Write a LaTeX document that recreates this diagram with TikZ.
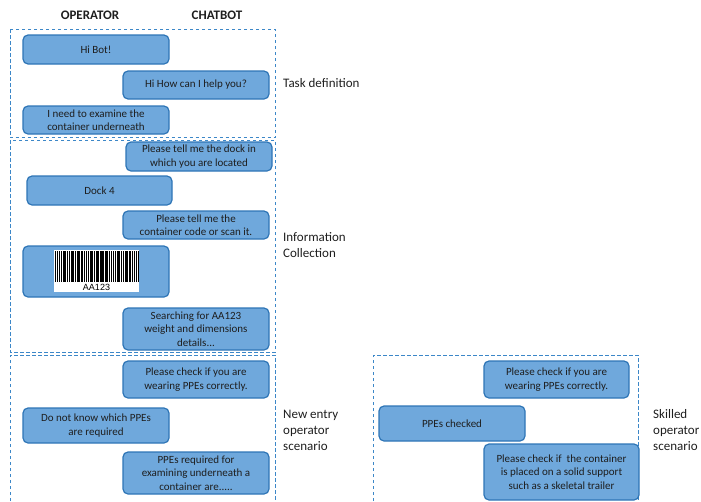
\documentclass[tikz,border=0pt]{standalone}
\usepackage{fontspec}
\setmainfont{Carlito}
\newfontfamily\arialfont{Liberation Sans}
\definecolor{bubfill}{RGB}{111,168,220}
\definecolor{bubdraw}{RGB}{46,117,182}
\definecolor{dashblue}{RGB}{60,135,200}
\definecolor{txt}{RGB}{30,30,30}
\tikzset{
  bubble/.style={draw=bubdraw, fill=bubfill, line width=1.2pt, rounded corners=5pt,
    inner sep=0pt, align=center, text=txt, font=\fontsize{11}{13.5}\selectfont},
  sect/.style={draw=dashblue, line width=1pt, dash pattern=on 3.5pt off 2.5pt},
  sectlabel/.style={anchor=west, align=left, text=txt, inner sep=0pt, font=\fontsize{13}{16}\selectfont},
  head/.style={text=txt, inner sep=0pt, font=\fontsize{13}{15}\selectfont\bfseries}
}
\begin{document}
\begin{tikzpicture}[x=1pt,y=-1pt]
\useasboundingbox (0,0) rectangle (701,501);
% headers
\node[head] (hop) at (90,15) {OPERATOR};
\node[head] (hcb) at (217,15) {CHATBOT};
% section boxes
\draw[sect] (10,29) rectangle (275,137.5);
\draw[sect] (10,140) rectangle (275,352);
\draw[sect] (10,501) -- (10,355) -- (275,355) -- (275,501);
\draw[sect] (373,501) -- (373,355) -- (638,355) -- (638,501);
% section labels
\node[sectlabel] (ltask) at (283,83) {Task definition};
\node[sectlabel] (linfo) at (283,245) {Information\\Collection};
\node[sectlabel] (lnew) at (283,430) {New entry\\operator\\scenario};
\node[sectlabel] (lskill) at (653,430) {Skilled\\operator\\scenario};
% bubbles
\node[bubble, minimum width=146pt, minimum height=29pt] (b1) at (96,49.5) {Hi Bot!};
\node[bubble, minimum width=146pt, minimum height=28pt] (b2) at (196,85) {Hi How can I help you?};
\node[bubble, minimum width=146pt, minimum height=28pt] (b3) at (96,120) {I need to examine the\\container underneath};
\node[bubble, minimum width=146pt, minimum height=29pt] (b4) at (199,156.5) {Please tell me the dock in\\which you are located};
\node[bubble, minimum width=145pt, minimum height=29pt] (b5) at (99.5,190.5) {Dock 4};
\node[bubble, minimum width=146pt, minimum height=28pt] (b6) at (196,225) {Please tell me the\\container code or scan it.};
\node[bubble, minimum width=146pt, minimum height=51pt] (b7) at (96,271.5) {};
\node[bubble, minimum width=146pt, minimum height=42pt] (b8) at (196,329) {Searching for AA123\\weight and dimensions\\details...};
\node[bubble, minimum width=146pt, minimum height=37pt] (b9) at (196,379.5) {Please check if you are\\wearing PPEs correctly.};
\node[bubble, minimum width=146pt, minimum height=35pt] (b10) at (96,425.5) {Do not know which PPEs\\are required};
\node[bubble, minimum width=146pt, minimum height=42pt] (b11) at (196,473) {PPEs required for\\examining underneath a\\container are.....};
\node[bubble, minimum width=145pt, minimum height=37pt] (b12) at (556.5,379.5) {Please check if you are\\wearing PPEs correctly.};
\node[bubble, minimum width=146pt, minimum height=35pt] (b13) at (452,423.5) {PPEs checked};
\node[bubble, minimum width=155pt, minimum height=56pt] (b14) at (561.5,472) {Please check if\ \ the container\\is placed on a solid support\\such as a skeletal trailer};
% barcode
\fill[white] (54,250) rectangle (139,292);
\foreach \o/\w in {0/1.2,2/0.8,3.6/1.6,6.2/0.8,7.8/0.8,9.4/1.6,12/0.8,13.6/1.2,15.6/0.8,17.2/2,20/0.8,21.6/0.8,23.2/1.6,25.6/0.8,27.2/0.8,28.8/1.6,31.2/0.8,32.8/1.2,34.8/0.8,36.4/2,39.2/0.8,40.8/0.8,42.4/1.6,44.8/0.8,46.4/1.2,48.4/0.8,50/1.6,52.4/0.8,54/0.8,55.6/1.2,57.6/1.6,60/0.8,61.6/0.8,63.2/2,66/0.8,67.6/1.2,69.6/0.8,71.2/1.6,73.6/0.8,75.2/0.8,76.8/1.6,79.2/0.8,80.8/1.2,82.6/1.4}
  \fill[black] ({55+\o},251) rectangle ({55+\o+\w},282);
\node[inner sep=0pt, font=\arialfont\fontsize{9}{10}\selectfont] (code) at (96.5,287.5) {AA123};
\end{tikzpicture}
\end{document}
